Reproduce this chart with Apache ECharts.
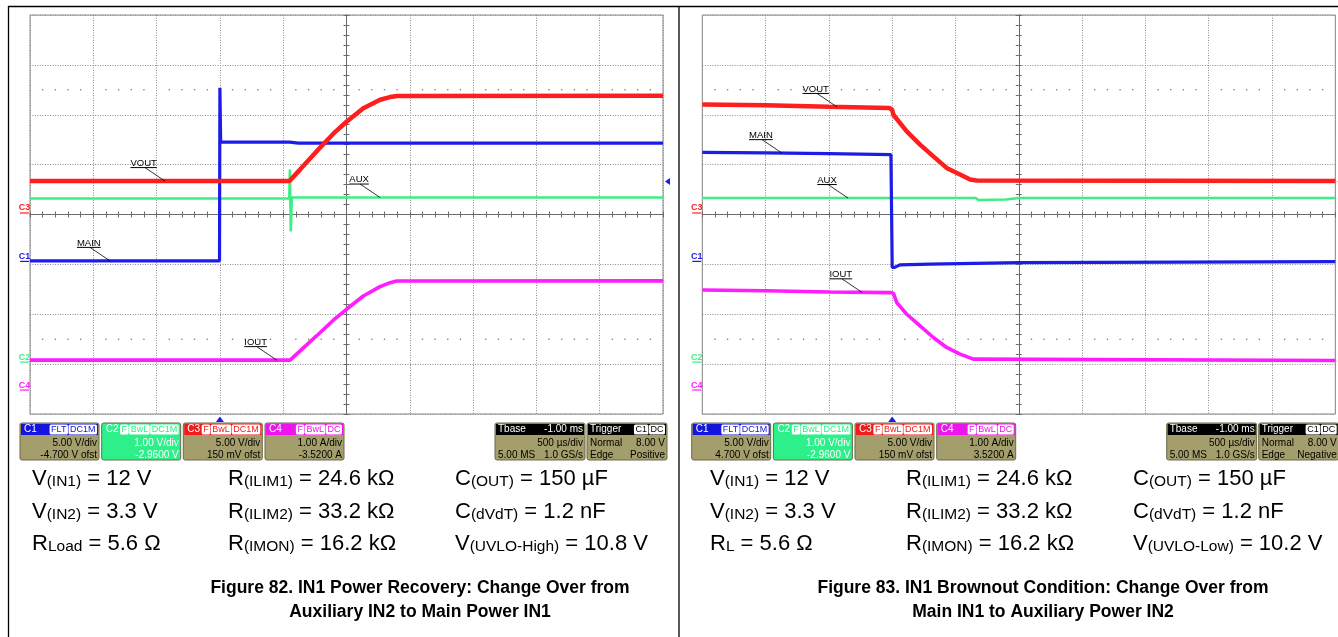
<!DOCTYPE html>
<html>
<head>
<meta charset="utf-8">
<script src="https://cdn.jsdelivr.net/npm/echarts@6/dist/echarts.min.js"></script>
<style>
html,body{margin:0;padding:0;background:#fff;}
#chart{width:1338px;height:637px;}
</style>
</head>
<body>
<div id="chart"></div>
<script>
// ================= DATA =================
// time axis in ms (500 us/div, 10 divisions, trigger at t = 0)
const timeMin = -1.5, timeMax = 3.5, timeStep = 0.5;
const channelNames = ['C1', 'C2', 'C3', 'C4'];
const channelScale = [5, 1, 5, 1];            // V/div, V/div, V/div, A/div
const f82_offset = [-4.7, -2.96, 0.15, -3.52];
const f83_offset = [-4.7, -2.96, 0.15, -3.52];
const f82_triggerLevel = 8.0;                 // V on C1
const f83_triggerLevel = 8.0;

// Figure 82 traces: [time ms, value]
const f82_main = [[-1.5, 0.05], [-0.003, 0.05], [0, 17.4], [0.006, 11.95], [0.55, 11.95], [0.62, 11.85], [3.5, 11.85]];
const f82_aux  = [[-1.5, 3.28], [0.548, 3.28], [0.553, 3.86], [0.560, 2.62], [0.568, 3.3], [3.5, 3.3]];
const f82_vout = [[-1.5, 3.2], [0.55, 3.2], [0.633, 4.35], [0.765, 6.2], [0.896, 7.95], [1.0, 9.15], [1.133, 10.5], [1.265, 11.35], [1.344, 11.62], [1.4, 11.72], [3.5, 11.75]];
const f82_iout = [[-1.5, 0.6], [0.554, 0.6], [0.765, 1.09], [0.896, 1.4], [1.0, 1.62], [1.133, 1.886], [1.265, 2.074], [1.344, 2.154], [1.397, 2.186], [3.5, 2.19]];

// Figure 83 traces
const f83_main = [[-1.5, 10.93], [-1.0, 10.87], [-0.5, 10.8], [-0.01, 10.7], [0, -0.6], [0.02, -0.6], [0.06, -0.35], [0.3, -0.27], [1.0, -0.13], [3.5, -0.03]];
const f83_aux  = [[-1.5, 3.29], [0.66, 3.29], [0.68, 3.25], [0.9, 3.26], [1.0, 3.29], [3.5, 3.29]];
const f83_vout = [[-1.5, 10.88], [-1.0, 10.8], [-0.5, 10.65], [-0.02, 10.52], [0, 10.35], [0.009, 9.85], [0.115, 8.18], [0.22, 6.85], [0.325, 5.68], [0.43, 4.52], [0.536, 3.85], [0.615, 3.35], [0.667, 3.25], [3.5, 3.22]];
const f83_iout = [[-1.5, 2.006], [-1.0, 1.99], [-0.5, 1.966], [-0.02, 1.954], [0.01, 1.94], [0.036, 1.754], [0.115, 1.52], [0.22, 1.286], [0.325, 1.054], [0.43, 0.854], [0.536, 0.72], [0.641, 0.62], [0.654, 0.6], [3.5, 0.594]];

// trace annotations: text, channel index, time where the leader meets the trace
const f82_labelText = ['VOUT', 'AUX', 'MAIN', 'IOUT'];
const f82_labelChan = [2, 1, 0, 3];
const f82_labelTime = [-0.434, 1.265, -0.868, 0.449];
const f83_labelText = ['VOUT', 'MAIN', 'AUX', 'IOUT'];
const f83_labelChan = [2, 0, 1, 3];
const f83_labelTime = [-0.436, -0.87, -0.349, -0.239];

// scope info-box texts
const f82_chTags = [['FLT', 'DC1M'], ['F', 'BwL', 'DC1M'], ['F', 'BwL', 'DC1M'], ['F', 'BwL', 'DC']];
const f82_chLines = [['5.00 V/div', '-4.700 V ofst'], ['1.00 V/div', '-2.9600 V'], ['5.00 V/div', '150 mV ofst'], ['1.00 A/div', '-3.5200 A']];
const f83_chLines = [['5.00 V/div', '4.700 V ofst'], ['1.00 V/div', '-2.9600 V'], ['5.00 V/div', '150 mV ofst'], ['1.00 A/div', '3.5200 A']];
const f82_tbase = ['Tbase', '-1.00 ms', '500 µs/div', '5.00 MS', '1.0 GS/s'];
const f82_trigger = ['Trigger', 'C1', 'DC', 'Normal', '8.00 V', 'Edge', 'Positive'];
const f83_trigger = ['Trigger', 'C1', 'DC', 'Normal', '8.00 V', 'Edge', 'Negative'];

// conditions text: [main, subscript, rest]
const f82_params = [
  [['V', '(IN1)', ' = 12 V'], ['R', '(ILIM1)', ' = 24.6 kΩ'], ['C', '(OUT)', ' = 150 µF']],
  [['V', '(IN2)', ' = 3.3 V'], ['R', '(ILIM2)', ' = 33.2 kΩ'], ['C', '(dVdT)', ' = 1.2 nF']],
  [['R', 'Load', ' = 5.6 Ω'], ['R', '(IMON)', ' = 16.2 kΩ'], ['V', '(UVLO-High)', ' = 10.8 V']]
];
const f83_params = [
  [['V', '(IN1)', ' = 12 V'], ['R', '(ILIM1)', ' = 24.6 kΩ'], ['C', '(OUT)', ' = 150 µF']],
  [['V', '(IN2)', ' = 3.3 V'], ['R', '(ILIM2)', ' = 33.2 kΩ'], ['C', '(dVdT)', ' = 1.2 nF']],
  [['R', 'L', ' = 5.6 Ω'], ['R', '(IMON)', ' = 16.2 kΩ'], ['V', '(UVLO-Low)', ' = 10.2 V']]
];
const f82_title = ['Figure 82. IN1 Power Recovery: Change Over from', 'Auxiliary IN2 to Main Power IN1'];
const f83_title = ['Figure 83. IN1 Brownout Condition: Change Over from', 'Main IN1 to Auxiliary Power IN2'];

// ================= STYLE / LAYOUT =================
const TRACE_COLORS = ['#1c1ce6', '#3cee84', '#ff1e1e', '#ff1cff'];
const BOX_HDR = ['#1414dc', '#2ef08a', '#ee1c1c', '#ee14ee'];
const TRACE_WIDTH = [3.2, 2.6, 4.5, 3.6];
const TRACE_Z = [3, 2, 5, 4];
const OLIVE = '#a39e6b', BOX_BORDER = '#6d6a4a', GREEN_BOX = '#2ef08a';
const FONT = '"Liberation Sans", Arial, sans-serif';

const figs = [
  {traces: [f82_main, f82_aux, f82_vout, f82_iout], offs: f82_offset, trig: f82_triggerLevel,
   lt: f82_labelText, lc: f82_labelChan, lti: f82_labelTime, lines: f82_chLines, trg: f82_trigger,
   params: f82_params, title: f82_title,
   grid: {left: 30, top: 15, width: 633, height: 399}, boxDx: 0, paramX: [32, 228, 455], titleX: 420},
  {traces: [f83_main, f83_aux, f83_vout, f83_iout], offs: f83_offset, trig: f83_triggerLevel,
   lt: f83_labelText, lc: f83_labelChan, lti: f83_labelTime, lines: f83_chLines, trg: f83_trigger,
   params: f83_params, title: f83_title,
   grid: {left: 702.3, top: 15, width: 633, height: 399}, boxDx: 671.7, paramX: [710, 906, 1133], titleX: 1043}
];

const gridLine = {color: '#8c8c8c', type: [1, 1.5], width: 1};
const crossCol = '#6a6a6a';

const grid = [], xAxis = [], yAxis = [], series = [];
figs.forEach((f, g) => {
  grid.push(Object.assign({show: true, borderColor: '#888', borderWidth: 1, backgroundColor: '#fff'}, f.grid));
  const xt = xAxis.length;
  xAxis.push({type: 'value', gridIndex: g, min: timeMin, max: timeMax, interval: timeStep, show: false, axisLine: {onZero: false}});
  const xd = xAxis.length;
  const yd = yAxis.length;
  [false, true].forEach((inside, k) => {
    xAxis.push({type: 'value', gridIndex: g, min: -5, max: 5, interval: 1, position: 'bottom',
      axisLine: {show: true, onZero: true, onZeroAxisIndex: yd, lineStyle: {color: crossCol, width: 1}},
      axisTick: {show: true, inside: inside, length: 3, lineStyle: {color: crossCol}},
      minorTick: {show: true, splitNumber: 5, length: 3, lineStyle: {color: crossCol}},
      axisLabel: {show: false}, splitLine: {show: k === 0, lineStyle: gridLine}, minorSplitLine: {show: false}});
  });
  [false, true].forEach((inside, k) => {
    yAxis.push({type: 'value', gridIndex: g, min: -4, max: 4, interval: 1, position: 'left',
      axisLine: {show: true, onZero: true, onZeroAxisIndex: xd, lineStyle: {color: crossCol, width: 1}},
      axisTick: {show: true, inside: inside, length: 3, lineStyle: {color: crossCol}},
      minorTick: {show: true, splitNumber: 5, length: 3, lineStyle: {color: crossCol}},
      axisLabel: {show: false}, splitLine: {show: k === 0, lineStyle: gridLine}, minorSplitLine: {show: false}});
  });
  channelNames.forEach((c, i) => {
    yAxis.push({type: 'value', gridIndex: g, show: false, axisLine: {onZero: false},
      min: -4 * channelScale[i] - f.offs[i], max: 4 * channelScale[i] - f.offs[i]});
  });
  // graticule dot rows at +-2.5 div
  const dots = [];
  for (let k = -24; k <= 24; k++) { if (k % 5 === 0) continue; dots.push([k / 5, 2.5], [k / 5, -2.5]); }
  series.push({type: 'scatter', xAxisIndex: xd, yAxisIndex: yd, data: dots, symbolSize: 1.6,
    itemStyle: {color: '#555'}, silent: true, z: 1});
  f.seriesStart = series.length;
  f.traces.forEach((d, i) => {
    series.push({type: 'line', xAxisIndex: xt, yAxisIndex: yd + 2 + i, data: d, showSymbol: false, symbol: 'none',
      lineStyle: {color: TRACE_COLORS[i], width: TRACE_WIDTH[i]}, z: TRACE_Z[i], silent: true});
  });
});

const chart = echarts.init(document.getElementById('chart'));
chart.setOption({animation: false, backgroundColor: '#fff', grid, xAxis, yAxis, series});

// ================= ANNOTATIONS =================
const ctx = document.createElement('canvas').getContext('2d');
function textW(t, font) { ctx.font = font; return ctx.measureText(t).width; }
function valueAt(d, t) {
  for (let i = 1; i < d.length; i++) {
    if (t <= d[i][0]) { const a = d[i - 1], b = d[i]; return a[1] + (b[1] - a[1]) * (t - a[0]) / (b[0] - a[0]); }
  }
  return d[d.length - 1][1];
}

const els = [];
// table lines
els.push({type: 'line', shape: {x1: 8, y1: 6.5, x2: 1338, y2: 6.5}, style: {stroke: '#000', lineWidth: 1.5}});
els.push({type: 'line', shape: {x1: 8.5, y1: 6, x2: 8.5, y2: 637}, style: {stroke: '#000', lineWidth: 1.3}});
els.push({type: 'line', shape: {x1: 679, y1: 6, x2: 679, y2: 637}, style: {stroke: '#000', lineWidth: 1.3}});

const labelFont = '9.5px ' + FONT;
figs.forEach((f, g) => {
  const gl = f.grid.left, gr = f.grid.left + f.grid.width, gb = f.grid.top + f.grid.height;
  // trace labels with leader lines
  f.lt.forEach((txt, k) => {
    const ch = f.lc[k];
    const t = f.lti[k];
    const p = chart.convertToPixel({seriesIndex: f.seriesStart + ch}, [t, valueAt(f.traces[ch], t)]);
    const w = textW(txt, labelFont);
    const left = p[0] - 20 - w * 0.55;
    els.push({type: 'text', x: left, y: p[1] - 18, style: {text: txt, font: labelFont, fill: '#000', verticalAlign: 'middle'}, z: 50});
    els.push({type: 'line', shape: {x1: left, y1: p[1] - 13.5, x2: left + w, y2: p[1] - 13.5}, style: {stroke: '#000', lineWidth: 1}, z: 50});
    els.push({type: 'line', shape: {x1: p[0] - 20, y1: p[1] - 13.5, x2: p[0], y2: p[1]}, style: {stroke: '#000', lineWidth: 0.8}, z: 50});
  });
  // channel ground markers
  channelNames.forEach((c, i) => {
    const p = chart.convertToPixel({seriesIndex: f.seriesStart + i}, [0, 0]);
    els.push({type: 'text', x: gl - 5.5, y: p[1] - 0.5, style: {text: c, font: 'bold 9px ' + FONT, fill: TRACE_COLORS[i], align: 'center', verticalAlign: 'bottom'}});
    els.push({type: 'line', shape: {x1: gl - 10, y1: p[1], x2: gl - 1, y2: p[1]}, style: {stroke: TRACE_COLORS[i], lineWidth: 1.2}});
  });
  // trigger level marker
  const tl = chart.convertToPixel({seriesIndex: f.seriesStart}, [0, f.trig]);
  els.push({type: 'polygon', shape: {points: [[gr + 2, tl[1]], [gr + 7, tl[1] - 3.5], [gr + 7, tl[1] + 3.5]]}, style: {fill: '#1c1ce6'}});
  // trigger position marker
  els.push({type: 'polygon', shape: {points: [[tl[0], gb + 2.5], [tl[0] - 4, gb + 8], [tl[0] + 4, gb + 8]]}, style: {fill: '#1c1ce6'}});

  // info boxes
  const dx = f.boxDx, top = 423, h = 37, hh = 12, bodyFont = '10px ' + FONT;
  const bx = [20, 101.7, 183.3, 265], bw = 79;
  for (let i = 0; i < 4; i++) {
    const x = bx[i] + dx, green = i === 1;
    els.push({type: 'rect', shape: {x: x, y: top, width: bw, height: h, r: 2}, style: {fill: green ? GREEN_BOX : OLIVE, stroke: BOX_BORDER, lineWidth: 1}});
    els.push({type: 'rect', shape: {x: x + 1, y: top + 1, width: bw - 2, height: hh - 1}, style: {fill: BOX_HDR[i]}});
    els.push({type: 'text', x: x + 4, y: top + 6.5, style: {text: channelNames[i], font: '10px ' + FONT, fill: '#fff', verticalAlign: 'middle'}});
    els.push({type: 'text', x: x + bw - 2, y: top + 6.5, style: {
      text: f82_chTags[i].map(s => '{t|' + s + '}').join('{g| }'), align: 'right', verticalAlign: 'middle',
      rich: {t: {fill: BOX_HDR[i], backgroundColor: '#fff', borderRadius: 1.5, padding: [1, 1.5, 0, 1.5], fontSize: 9, fontFamily: FONT, lineHeight: 10},
             g: {fontSize: 2, fontFamily: FONT}}}});
    els.push({type: 'text', x: x + bw - 2, y: top + 20.5, style: {text: f.lines[i][0], font: bodyFont, fill: green ? '#fff' : '#000', align: 'right', verticalAlign: 'middle'}});
    els.push({type: 'text', x: x + bw - 2, y: top + 32, style: {text: f.lines[i][1], font: bodyFont, fill: green ? '#fff' : '#000', align: 'right', verticalAlign: 'middle'}});
  }
  // Tbase
  const tx = 495 + dx, tw = 90;
  els.push({type: 'rect', shape: {x: tx, y: top, width: tw, height: h, r: 2}, style: {fill: OLIVE, stroke: BOX_BORDER, lineWidth: 1}});
  els.push({type: 'rect', shape: {x: tx + 1, y: top + 1, width: tw - 2, height: hh - 1}, style: {fill: '#000'}});
  els.push({type: 'text', x: tx + 3, y: top + 6.5, style: {text: f82_tbase[0], font: bodyFont, fill: '#fff', verticalAlign: 'middle'}});
  els.push({type: 'text', x: tx + tw - 2, y: top + 6.5, style: {text: f82_tbase[1], font: bodyFont, fill: '#fff', align: 'right', verticalAlign: 'middle'}});
  els.push({type: 'text', x: tx + tw - 2, y: top + 20.5, style: {text: f82_tbase[2], font: bodyFont, fill: '#000', align: 'right', verticalAlign: 'middle'}});
  els.push({type: 'text', x: tx + 3, y: top + 32, style: {text: f82_tbase[3], font: bodyFont, fill: '#000', verticalAlign: 'middle'}});
  els.push({type: 'text', x: tx + tw - 2, y: top + 32, style: {text: f82_tbase[4], font: bodyFont, fill: '#000', align: 'right', verticalAlign: 'middle'}});
  // Trigger
  const rx = 587 + dx, rw = 80;
  els.push({type: 'rect', shape: {x: rx, y: top, width: rw, height: h, r: 2}, style: {fill: OLIVE, stroke: BOX_BORDER, lineWidth: 1}});
  els.push({type: 'rect', shape: {x: rx + 1, y: top + 1, width: rw - 2, height: hh - 1}, style: {fill: '#000'}});
  els.push({type: 'text', x: rx + 3, y: top + 6.5, style: {text: f.trg[0], font: bodyFont, fill: '#fff', verticalAlign: 'middle'}});
  els.push({type: 'text', x: rx + rw - 2, y: top + 6.5, style: {
    text: '{t|' + f.trg[1] + '}{g| }{t|' + f.trg[2] + '}', align: 'right', verticalAlign: 'middle',
    rich: {t: {fill: '#000', backgroundColor: '#fff', borderRadius: 1.5, padding: [1, 1.5, 0, 1.5], fontSize: 9, fontFamily: FONT, lineHeight: 10},
           g: {fontSize: 2, fontFamily: FONT}}}});
  els.push({type: 'text', x: rx + 3, y: top + 20.5, style: {text: f.trg[3], font: bodyFont, fill: '#000', verticalAlign: 'middle'}});
  els.push({type: 'text', x: rx + rw - 2, y: top + 20.5, style: {text: f.trg[4], font: bodyFont, fill: '#000', align: 'right', verticalAlign: 'middle'}});
  els.push({type: 'text', x: rx + 3, y: top + 32, style: {text: f.trg[5], font: bodyFont, fill: '#000', verticalAlign: 'middle'}});
  els.push({type: 'text', x: rx + rw - 2, y: top + 32, style: {text: f.trg[6], font: bodyFont, fill: '#000', align: 'right', verticalAlign: 'middle'}});

  // conditions
  const rowY = [477, 510, 542];
  f.params.forEach((row, r) => {
    row.forEach((p, c) => {
      els.push({type: 'text', x: f.paramX[c], y: rowY[r], style: {
        text: '{m|' + p[0] + '}{s|' + p[1] + '}{m|' + p[2] + '}', fill: '#000', verticalAlign: 'middle',
        rich: {m: {fontSize: 22, fontFamily: FONT, lineHeight: 26, verticalAlign: 'bottom'},
               s: {fontSize: 15.5, fontFamily: FONT, lineHeight: 11, verticalAlign: 'bottom'}}}});
    });
  });
  // title
  f.title.forEach((t, k) => {
    els.push({type: 'text', x: f.titleX, y: 588 + k * 24, style: {text: t, font: 'bold 17.5px ' + FONT, fill: '#000', align: 'center', verticalAlign: 'middle'}});
  });
});

chart.setOption({graphic: {elements: els.map(e => Object.assign({silent: true, z: e.z || 20}, e))}});
</script>
</body>
</html>
